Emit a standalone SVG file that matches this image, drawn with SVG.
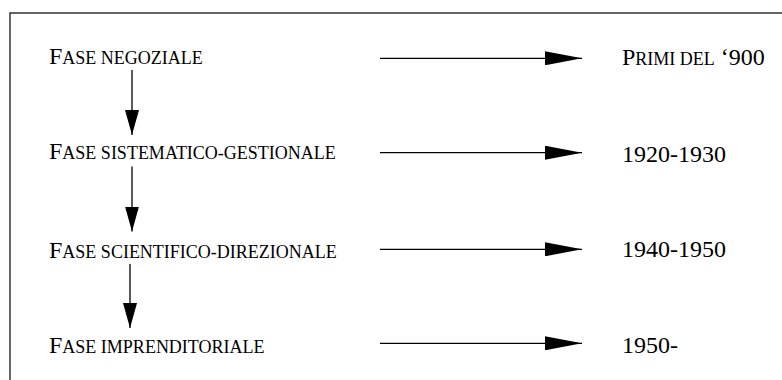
<svg xmlns="http://www.w3.org/2000/svg" width="782" height="380" viewBox="0 0 782 380">
  <style>
    .frame { fill: none; stroke: #333; stroke-width: 1.5; }
    .label { fill: #000; font-size: 24px; }
    .sc { font-size: 18px; }
    .link { stroke: #000; stroke-width: 1.3; fill: none; }
    .h { marker-end: url(#headLong); }
    .v { marker-end: url(#headShort); }
  </style>
  <defs>
    <marker id="headLong" markerUnits="userSpaceOnUse" markerWidth="37" markerHeight="14" refX="37" refY="7" orient="auto">
      <path d="M0,0 L37,7 L0,14 z" fill="#000"/>
    </marker>
    <marker id="headShort" markerUnits="userSpaceOnUse" markerWidth="25" markerHeight="14" refX="25" refY="7" orient="auto">
      <path d="M0,0 L25,7 L0,14 z" fill="#000"/>
    </marker>
  </defs>

  <rect class="frame" x="10" y="13" width="800" height="420"/>

  <g font-family="'Liberation Serif', 'Times New Roman', serif">
    <!-- phases -->
    <g id="fase-negoziale">
      <text class="label" x="49" y="64">F<tspan class="sc">ASE NEGOZIALE</tspan></text>
    </g>
    <g id="fase-sistematico">
      <text class="label" x="49" y="159">F<tspan class="sc">ASE SISTEMATICO-GESTIONALE</tspan></text>
    </g>
    <g id="fase-scientifico">
      <text class="label" x="49" y="257.5">F<tspan class="sc">ASE SCIENTIFICO-DIREZIONALE</tspan></text>
    </g>
    <g id="fase-imprenditoriale">
      <text class="label" x="49" y="352.5">F<tspan class="sc">ASE IMPRENDITORIALE</tspan></text>
    </g>

    <!-- periods -->
    <g id="periodo-1">
      <text class="label" x="622" y="65">P<tspan class="sc">RIMI DEL</tspan> ‘900</text>
    </g>
    <g id="periodo-2">
      <text class="label" x="622" y="161.5">1920-1930</text>
    </g>
    <g id="periodo-3">
      <text class="label" x="622" y="257">1940-1950</text>
    </g>
    <g id="periodo-4">
      <text class="label" x="622" y="353">1950-</text>
    </g>
  </g>

  <!-- connectors -->
  <g id="connectors">
    <line class="link h" x1="380" y1="58.3" x2="582" y2="58.3"/>
    <line class="link h" x1="380" y1="152.7" x2="582" y2="152.7"/>
    <line class="link h" x1="380" y1="249.3" x2="582" y2="249.3"/>
    <line class="link h" x1="380" y1="343.3" x2="582" y2="343.3"/>
    <line class="link v" x1="132" y1="70" x2="132" y2="135"/>
    <line class="link v" x1="132" y1="166.5" x2="132" y2="231.5"/>
    <line class="link v" x1="130" y1="264" x2="130" y2="328"/>
  </g>
</svg>
